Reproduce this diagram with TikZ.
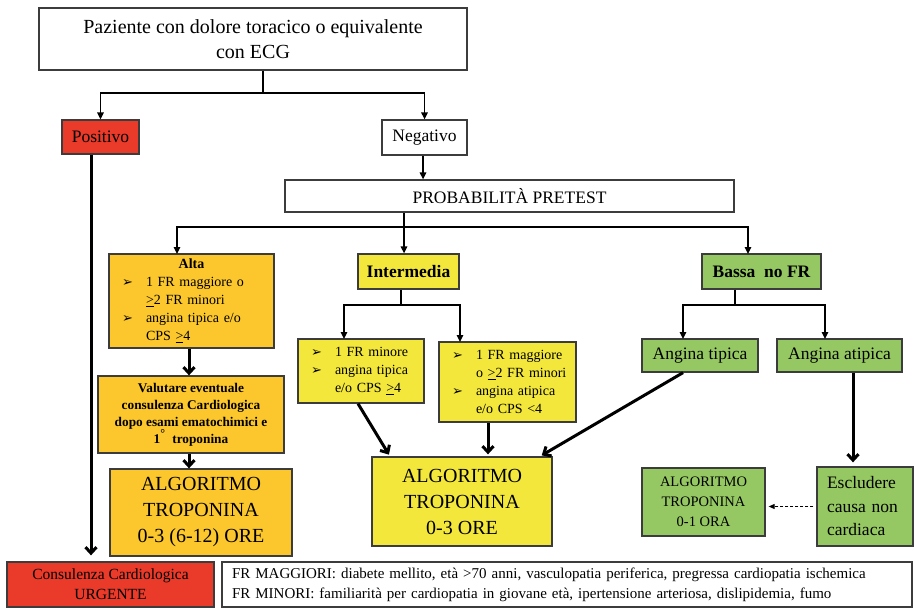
\documentclass[tikz,border=0pt]{standalone}
\usepackage{fontspec}
\setmainfont{Liberation Serif}
\newfontfamily\symfont{DejaVu Sans}
\usetikzlibrary{arrows.meta}

\definecolor{boxred}{HTML}{E93A2A}
\definecolor{boxgold}{HTML}{FCC72C}
\definecolor{boxyellow}{HTML}{F3E73C}
\definecolor{boxgreen}{HTML}{95C862}
\definecolor{edge}{HTML}{3C3C3C}

\newcommand\fs[2]{\fontsize{#1}{#2}\selectfont}
\newcommand\blt{\makebox[24pt][l]{\symfont\fontsize{13}{13}\selectfont ➢}}
\newcommand\bitem[1]{\hspace*{13pt}\blt#1}
\newcommand\bcont[1]{\hspace*{37pt}#1}
\newcommand\geu{\underline{>}}

\tikzset{
  box/.style={draw=edge, line width=1.3pt, inner sep=0pt, align=center},
  link/.style={line width=1.4pt},
  conn/.style={line width=1.4pt, -{Triangle[length=7pt,width=6.5pt]}},
  heavy/.style={line width=3pt, -{Straight Barb[length=6pt,width=11pt]}},
  dashlink/.style={line width=1pt, dash pattern=on 3pt off 2pt, -{Triangle[length=6pt,width=5pt]}}
}

\begin{document}
\begin{tikzpicture}[x=1pt,y=-1pt]
\useasboundingbox (0,0) rectangle (915,610);

% boxes
\node[box, minimum width=428pt, minimum height=62pt, font=\fs{20}{25}] (top) at (253,39)
  {Paziente con dolore toracico o equivalente\\con ECG};
\node[box, fill=boxred, minimum width=77pt, minimum height=34pt, font=\fs{17.5}{20}] (pos) at (100.5,137) {Positivo};
\node[box, minimum width=85pt, minimum height=35pt, font=\fs{17.5}{20}] (neg) at (424.5,137.5) {Negativo};
\node[box, minimum width=449pt, minimum height=32pt, font=\fs{17.5}{20}] (prob) at (509.5,196) {PROBABILITÀ PRETEST};

\node[box, fill=boxgold, minimum width=165pt, minimum height=94pt, text width=165pt, align=left, font=\fs{14}{18}] (alta) at (191.5,301)
  {{\centering\textbf{Alta}\par}\bitem{1 FR maggiore o}\\\bcont{\geu2 FR minori}\\\bitem{angina tipica e/o}\\\bcont{CPS \geu4}};
\node[box, fill=boxgold, minimum width=186pt, minimum height=77pt, font=\bfseries\fs{13.3}{17}] (val) at (191,414.5)
  {Valutare eventuale\\consulenza Cardiologica\\dopo esami ematochimici e\\1\textsuperscript{\fs{12}{12}°}\ \ troponina};
\node[box, fill=boxgold, minimum width=182pt, minimum height=87pt, font=\fs{20}{26}] (alg1) at (201,512.5)
  {ALGORITMO\\TROPONINA\\0-3 (6-12) ORE};

\node[box, fill=boxyellow, minimum width=101pt, minimum height=35pt, font=\bfseries\fs{17.5}{20}] (inter) at (408.5,271.5) {Intermedia};
\node[box, fill=boxyellow, minimum width=126pt, minimum height=64pt, text width=126pt, align=left, font=\fs{14}{18}] (intL) at (361,371)
  {\bitem{1 FR minore}\\\bitem{angina tipica}\\\bcont{e/o CPS \geu4}};
\node[box, fill=boxyellow, minimum width=137pt, minimum height=80pt, text width=137pt, align=left, font=\fs{14}{18}] (intR) at (507.5,382)
  {\bitem{1 FR maggiore}\\\bcont{o \geu2 FR minori}\\\bitem{angina atipica}\\\bcont{e/o CPS <4}};
\node[box, fill=boxyellow, minimum width=180pt, minimum height=89pt, font=\fs{20}{26}] (alg2) at (462,501.5)
  {ALGORITMO\\TROPONINA\\0-3 ORE};

\node[box, fill=boxgreen, minimum width=119pt, minimum height=35pt, font=\bfseries\fs{17.5}{20}] (bassa) at (761.5,271.5) {Bassa\ \ no FR};
\node[box, fill=boxgreen, minimum width=116pt, minimum height=33pt, font=\fs{17.5}{20}] (angT) at (700,355.5) {Angina tipica};
\node[box, fill=boxgreen, minimum width=125pt, minimum height=33pt, font=\fs{17.5}{20}] (angA) at (839.5,355.5) {Angina atipica};
\node[box, fill=boxgreen, minimum width=123pt, minimum height=68pt, font=\fs{14.5}{20}] (alg3) at (703.5,502)
  {ALGORITMO\\TROPONINA\\0-1 ORA};
\node[box, fill=boxgreen, minimum width=96pt, minimum height=79pt, text width=96pt, align=left, font=\fs{17.5}{23.5}] (escl) at (865,506.5)
  {\hspace*{10pt}Escludere\\\hspace*{10pt}causa non\\\hspace*{10pt}cardiaca};

\node[box, fill=boxred, minimum width=207pt, minimum height=45pt, font=\fs{15.5}{20}] (cons) at (110.5,584.5)
  {Consulenza Cardiologica\\URGENTE};
\node[box, minimum width=690pt, minimum height=45pt, text width=690pt, align=left, font=\fs{15}{20}] (fr) at (567,584.5)
  {\hspace*{10pt}FR MAGGIORI: diabete mellito, età >70 anni, vasculopatia periferica, pregressa cardiopatia ischemica\\
   \hspace*{10pt}FR MINORI: familiarità per cardiopatia in giovane età, ipertensione arteriosa, dislipidemia, fumo};

% branch points
\coordinate (s1) at (263,93);
\coordinate (s2) at (404,227);
\coordinate (altaIn) at (177,254);
\coordinate (bassaIn) at (748,254);
\coordinate (s3) at (401,305);
\coordinate (intLIn) at (344,339);
\coordinate (intRIn) at (460,342);
\coordinate (s4) at (735,305);
\coordinate (angTIn) at (683,339);
\coordinate (angAIn) at (825,339);

% ECG result
\draw[link] (top.south -| s1) -- (s1);
\draw[conn] (s1) -| (pos.north);
\draw[conn] (s1) -| (neg.north);
\draw[conn] ([xshift=-1.5pt]neg.south) -- ([xshift=-1.5pt]neg.south |- prob.north);

% pretest probability
\draw[link] (prob.south -| s2) -- (s2);
\draw[conn] (s2) -| (altaIn);
\draw[conn] (s2) -| (bassaIn);
\draw[conn] (s2) -- (s2 |- inter.north);

\draw[link] (inter.south -| s3) -- (s3);
\draw[conn] (s3) -| (intLIn);
\draw[conn] (s3) -| (intRIn);

\draw[link] (bassa.south -| s4) -- (s4);
\draw[conn] (s4) -| (angTIn);
\draw[conn] (s4) -| (angAIn);

% heavy arrows
\draw[heavy, shorten >=6pt] ([xshift=-9.5pt]pos.south) -- ([xshift=-9.5pt]pos.south |- cons.north);
\draw[heavy] ([xshift=-2.5pt]alta.south) -- ([xshift=-2.5pt]alta.south |- val.north);
\draw[heavy] ([xshift=-2pt]val.south) -- ([xshift=-2pt]val.south |- alg1.north);
\draw[heavy, shorten >=2pt] ([xshift=-3pt]intL.south) -- ([xshift=-72pt]alg2.north);
\draw[heavy, shorten >=2pt] ([xshift=-19.5pt]intR.south) -- ([xshift=-19.5pt]intR.south |- alg2.north);
\draw[heavy, shorten >=2pt] ([xshift=-17pt]angT.south) -- ([xshift=78pt]alg2.north);
\draw[heavy, shorten >=4pt] ([xshift=13.5pt]angA.south) -- ([xshift=13.5pt]angA.south |- escl.north);

\draw[dashlink, shorten <=3pt, shorten >=3pt] (escl.west) -- (escl.west -| alg3.east);
\end{tikzpicture}
\end{document}
